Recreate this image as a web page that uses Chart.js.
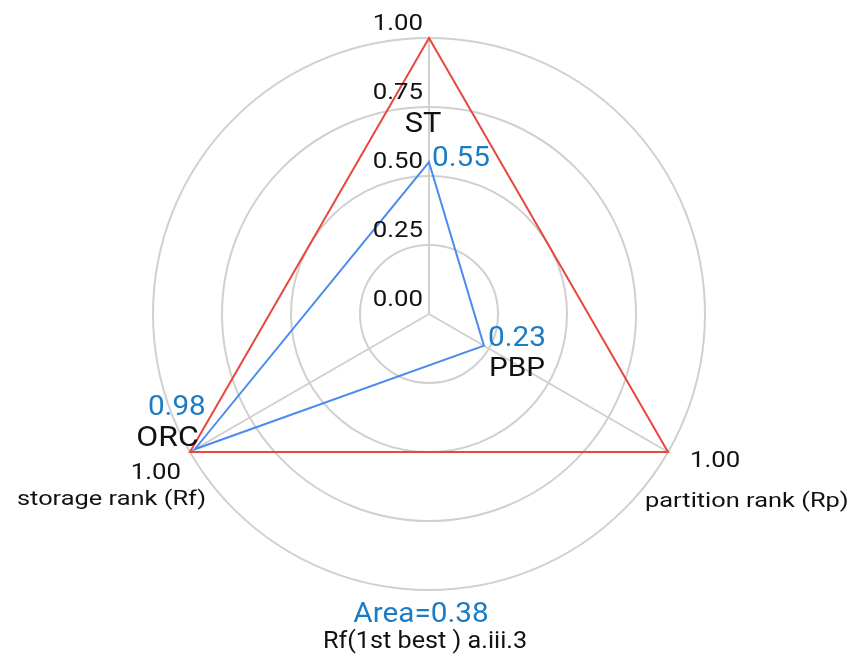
<!DOCTYPE html>
<html lang="en">

<head>
    <meta charset="UTF-8">
    <title>Rank radar</title>
    <style>
        body {
            margin: 0;
            padding: 0;
            background: #ffffff;
        }

        #chart-container {
            width: 852px;
            height: 664px;
        }
    </style>
    <script src="https://cdn.jsdelivr.net/npm/chart.js@4"></script>
</head>

<body>

    <div id="chart-container">
        <canvas id="radarChart" width="852" height="664"></canvas>
    </div>

    <script>
        // chart data
        const axisNames = ['', 'partition rank (Rp)', 'storage rank (Rf)'];
        const pointNames = ['ST', 'PBP', 'ORC'];
        const bestValues = [1, 1, 1];
        const rankValues = [0.55, 0.23, 0.98];
        const tickValues = [0, 0.25, 0.5, 0.75, 1];
        const areaText = 'Area=0.38';
        const subText = 'Rf(1st best ) a.iii.3';

        const BLUE_TEXT = '#1b7bc4';
        const BLACK = '#111111';

        // offsets of the value / name labels around each blue point
        const labelPlace = [
            { v: [3, 4, 'left', 28], n: [-6, -30, 'center', 27] },
            { v: [4, 0, 'left', 28], n: [5, 30, 'left', 26] },
            { v: [11, -34, 'right', 28], n: [4, -3, 'right', 28] }
        ];
        // offsets of the axis end labels around each outer vertex
        const axisPlace = [
            null,
            { v: [22, 15, 'left'], n: [-23, 55, 'left'] },
            { v: [-9, 27, 'right'], n: [16, 53, 'right'] }
        ];

        // text drawn a little wider than the font, like the original render
        function drawText(ctx, text, x, y, font, color, align, sx) {
            ctx.save();
            ctx.font = font;
            ctx.fillStyle = color;
            ctx.textAlign = align;
            ctx.textBaseline = 'alphabetic';
            ctx.translate(x, y);
            ctx.scale(sx, 1);
            ctx.fillText(text, 0, 0);
            ctx.restore();
        }

        const labelPlugin = {
            id: 'labelPlugin',
            afterDraw(chart) {
                const ctx = chart.ctx;
                const scale = chart.scales.r;
                const meta = chart.getDatasetMeta(1);

                // tick labels above each ring
                tickValues.forEach(v => {
                    const d = scale.getDistanceFromCenterForValue(v);
                    drawText(ctx, v.toFixed(2), scale.xCenter - 6, scale.yCenter - d - 8,
                        '22px Roboto', BLACK, 'right', 1.17);
                });

                // value + name next to each point
                meta.data.forEach((pt, i) => {
                    const p = labelPlace[i];
                    drawText(ctx, rankValues[i].toFixed(2), pt.x + p.v[0], pt.y + p.v[1],
                        p.v[3] + 'px Roboto', BLUE_TEXT, p.v[2], 1.06);
                    drawText(ctx, pointNames[i], pt.x + p.n[0], pt.y + p.n[1],
                        p.n[3] + 'px Roboto', BLACK, p.n[2], 1.14);
                });

                // axis end labels
                axisPlace.forEach((p, i) => {
                    if (!p) return;
                    const pos = scale.getPointPosition(i, scale.drawingArea);
                    drawText(ctx, bestValues[i].toFixed(2), pos.x + p.v[0], pos.y + p.v[1],
                        '22px Roboto', BLACK, p.v[2], 1.17);
                    drawText(ctx, axisNames[i], pos.x + p.n[0], pos.y + p.n[1],
                        '20px Roboto', BLACK, p.n[2], 1.27);
                });

                // bottom caption
                drawText(ctx, areaText, 421, 622, '27px Roboto', BLUE_TEXT, 'center', 1.1);
                drawText(ctx, subText, 425, 648, '24px Roboto', BLACK, 'center', 1.05);
            }
        };

        function createRadarChart() {
            const ctx = document.getElementById('radarChart').getContext('2d');
            new Chart(ctx, {
                type: 'radar',
                data: {
                    labels: axisNames,
                    datasets: [
                        {
                            label: 'best',
                            data: bestValues,
                            borderColor: '#e8473c', // red outer triangle
                            borderWidth: 2,
                            fill: false,
                            pointRadius: 0
                        },
                        {
                            label: 'rank',
                            data: rankValues,
                            borderColor: '#4a8bf0', // blue triangle
                            borderWidth: 2,
                            fill: false,
                            pointRadius: 0
                        }
                    ]
                },
                options: {
                    responsive: false,
                    animation: false,
                    layout: {
                        padding: { top: 38, bottom: 74, left: 153, right: 147 }
                    },
                    plugins: {
                        legend: { display: false },
                        tooltip: { enabled: false }
                    },
                    scales: {
                        r: {
                            min: 0,
                            max: 1,
                            ticks: {
                                stepSize: 0.25,
                                display: false
                            },
                            pointLabels: { display: false },
                            grid: {
                                circular: true,
                                color: '#d0d0d0',
                                lineWidth: 2
                            },
                            angleLines: {
                                color: '#d0d0d0',
                                lineWidth: 2
                            }
                        }
                    }
                },
                plugins: [labelPlugin]
            });
        }

        window.onload = function () {
            createRadarChart();
        };
    </script>

</body>

</html>
